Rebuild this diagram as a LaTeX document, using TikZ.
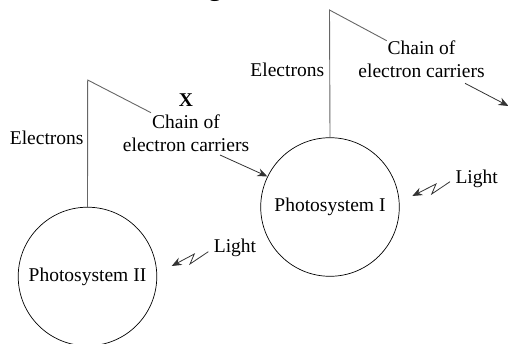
\documentclass[tikz,border=0pt]{standalone}
\usepackage{fontspec}
\setmainfont{Liberation Serif}
\usetikzlibrary{arrows.meta}
\begin{document}
\begin{tikzpicture}[x=1pt,y=-1pt,
  txt/.style={inner sep=0pt,font=\fontsize{19.5}{23}\selectfont,align=center},
  psys/.style={draw,circle,line width=0.7pt,minimum size=138.6pt,inner sep=0pt,font=\fontsize{19.5}{23}\selectfont},
  eline/.style={draw=black!60,line width=0.9pt},
  arr/.style={draw=black!80,line width=0.8pt,-{Stealth[length=10pt,width=8pt]}},
  zig/.style={draw=black!80,line width=0.8pt,-{Stealth[length=10pt,width=8pt]}}]
\useasboundingbox (0,0) rectangle (508,343);
\clip (0,0) rectangle (508,343);
% cropped title remnant
\node[inner sep=0pt,anchor=base,font=\fontsize{28}{30}\selectfont] (title) at (215,-4.5) {g};
% photosystems
\node[psys] (ps2) at (87.5,276.5) {Photosystem II};
\node[psys] (ps1) at (330,207) {Photosystem I};
% labels
\node[txt] (el2) at (46.7,137.7) {Electrons};
\node[txt,font=\fontsize{19.5}{23}\bfseries] (x) at (186,100) {X};
\node[txt] (ch2) at (186,133) {Chain of\\electron carriers};
\node[txt] (li2) at (235,248.3) {Light};
\node[txt] (el1) at (287.3,70) {Electrons};
\node[txt] (ch1) at (421.5,59.3) {Chain of\\electron carriers};
\node[txt] (li1) at (476.7,179) {Light};
% electron paths
\coordinate (t2) at (87.7,80);
\coordinate (d2) at (151,112.7);
\draw[eline] (ps2.north) -- (t2) -- (d2);
\coordinate (t1) at (329.5,10);
\coordinate (d1) at (386.7,40.7);
\draw[eline] (ps1.north) -- (t1) -- (d1);
% arrows from chains
\coordinate (a2) at (220,155);
\draw[arr] (a2) -- (ps1.154);
\coordinate (a1s) at (465,83.3);
\coordinate (a1e) at (508.5,106);
\draw[arr] (a1s) -- (a1e);
% light zigzags
\coordinate (z2a) at (208.3,251.7);
\coordinate (z2b) at (190,264);
\coordinate (z2c) at (194.3,254);
\coordinate (z2d) at (171.7,266);
\draw[zig] (z2a) -- (z2b) -- (z2c) -- (z2d);
\coordinate (z1a) at (450,181.7);
\coordinate (z1b) at (431.7,194);
\coordinate (z1c) at (436,184);
\coordinate (z1d) at (412.3,196);
\draw[zig] (z1a) -- (z1b) -- (z1c) -- (z1d);
\end{tikzpicture}
\end{document}
